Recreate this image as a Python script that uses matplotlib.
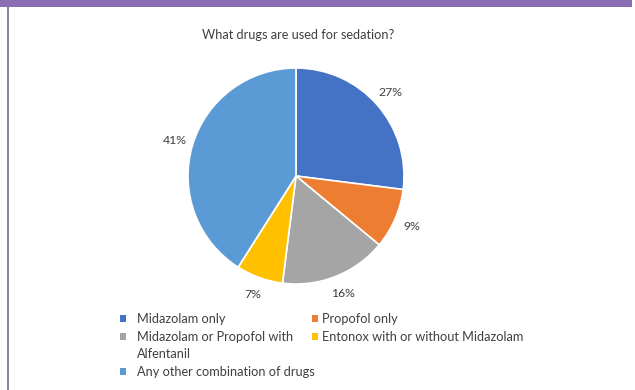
import matplotlib as mpl
mpl.use("Agg")
from matplotlib import pyplot as plt
from matplotlib.patches import Rectangle, Patch

plt.rcParams["font.family"] = ["Lato", "DejaVu Sans"]

title = "What drugs are used for sedation?"
categories = [
    "Midazolam only",
    "Propofol only",
    "Midazolam or Propofol with",
    "Entonox with or without Midazolam",
    "Any other combination of drugs",
]
wrapped_tail = "Alfentanil"  # second line of the third legend label
shares = [27, 9, 16, 7, 41]
colors = ["#4472C4", "#ED7D31", "#A5A5A5", "#FFC000", "#5B9BD5"]
text_color = "#404040"

W, H = 635, 390
fig = plt.figure(figsize=(W / 100, H / 100), dpi=100, facecolor="white")

# frame decoration: purple band at top, thin line on the left
fig.patches.append(Rectangle((0, 1 - 7 / H), 632 / W, 7 / H, transform=fig.transFigure,
                             facecolor="#8B6DB3", edgecolor="none"))
fig.patches.append(Rectangle((7 / W, 0), 2 / W, 1 - 7 / H, transform=fig.transFigure,
                             facecolor="#8E80A8", edgecolor="none"))

# pie: centre (296, 176) px, radius 108 px
r = 108
half = 1.5
ax = fig.add_axes([(296 - half * r) / W, (H - 176 - half * r) / H, 2 * half * r / W, 2 * half * r / H])
wedges, _, pcts = ax.pie(
    shares,
    colors=colors,
    startangle=90,
    counterclock=False,
    autopct="%.0f%%",
    pctdistance=1.17,
    wedgeprops=dict(edgecolor="white", linewidth=1.2),
    textprops=dict(color=text_color, fontsize=8.8),
)
ax.set_xlim(-half, half)
ax.set_ylim(-half, half)
ax.set_aspect("equal")

fig.text(298 / W, 1 - 35 / H, title, ha="center", va="center", fontsize=9.2, color=text_color)

# legend: Excel lays it out in two columns; one legend per column
blank = Patch(facecolor="none", edgecolor="none")
common = dict(
    loc="upper left",
    frameon=False,
    fontsize=9.2,
    labelcolor=text_color,
    handlelength=0.45,
    handleheight=0.45,
    labelspacing=0.45,
    borderpad=0,
    borderaxespad=0,
)
top = 1 - 313 / H
leg1 = fig.legend(
    [wedges[0], wedges[2], blank, wedges[4]],
    [categories[0], categories[2], wrapped_tail, categories[4]],
    bbox_to_anchor=(120 / W, top),
    handletextpad=0.9,
    **common,
)
leg2 = fig.legend(
    [wedges[1], wedges[3]],
    [categories[1], categories[3]],
    bbox_to_anchor=(312 / W, top),
    handletextpad=0.35,
    **common,
)
for leg in (leg1, leg2):
    for h in leg.legend_handles:
        h.set_edgecolor("none")

fig.savefig("out.png", dpi=100, facecolor="white")
